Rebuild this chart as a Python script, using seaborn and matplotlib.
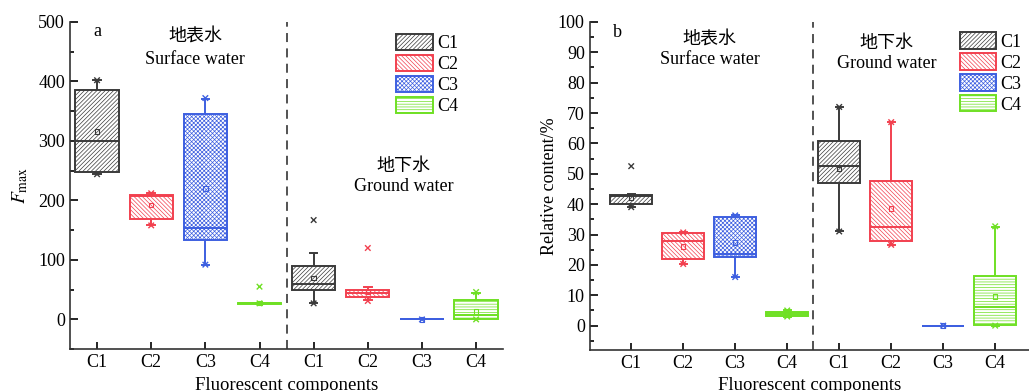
import numpy as np
import pandas as pd
import matplotlib
matplotlib.use("Agg")
import matplotlib.pyplot as plt
from matplotlib.patches import Patch
from matplotlib.ticker import MultipleLocator
import seaborn as sns

# components and sites
comps = ["C1", "C2", "C3", "C4"]
sites = ["Surface", "Ground"]
order = [f"{s}-{c}" for s in sites for c in comps]

# panel a: Fmax box stats (surface C1..C4, ground C1..C4)
fmax_min = [245, 158, 92, 26, 28, 32, 0, 0]
fmax_q1 = [248, 169, 133, 26.5, 50, 38, 0, 1]
fmax_med = [300, 207, 153, 27, 60, 44, 0, 8]
fmax_q3 = [385, 209, 345, 28, 90, 50, 0, 32]
fmax_max = [402, 212, 371, 28, 112, 55, 0, 45]
fmax_mean = [316, 192, 220, 28, 70, 46, 0, 13]
fmax_x = [[402, 244], [212, 158], [372, 92], [55, 27],
          [167, 27], [120, 31], [0], [46, 0]]

# panel b: relative content (%)
rel_min = [39, 20.3, 16, 3, 31, 26.6, 0, 0]
rel_q1 = [40, 22, 22.5, 3.2, 47, 27.8, 0, 0.2]
rel_med = [42.8, 27.8, 23.7, 3.9, 52.5, 32.5, 0, 6.3]
rel_q3 = [43, 30.5, 35.7, 4.6, 60.8, 47.7, 0, 16.4]
rel_max = [43.2, 30.7, 36.3, 5, 72, 67, 0, 32.5]
rel_mean = [42, 26, 27.3, 4, 51.5, 38.6, 0, 9.6]
rel_x = [[52.5, 39], [30.7, 20.3], [36.3, 16], [5, 3],
         [72, 31], [67, 26.6], [0], [32.7, 0]]

colors = {"C1": "#3a3a3a", "C2": "#f2404f", "C3": "#3d5fe0", "C4": "#6fe024"}
hatch_colors = {"C1": "#8a8a8a", "C2": "#f2404f", "C3": "#3d5fe0", "C4": "#6fe024"}
hatches = {"C1": "////////", "C2": "\\\\\\\\\\\\\\\\", "C3": "xxxxxxxx", "C4": "------"}

plt.rcParams["font.family"] = ["Liberation Serif", "Noto Sans CJK SC"]
plt.rcParams["mathtext.fontset"] = "stix"
plt.rcParams["hatch.linewidth"] = 0.5
cjk = ["Noto Sans CJK SC", "Liberation Serif"]
FS = 13


def long_tables(mins, q1s, meds, q3s, maxs, means, xs):
    rows, mrows, xrows = [], [], []
    for i, cat in enumerate(order):
        comp = cat.split("-")[1]
        for v in (mins[i], q1s[i], meds[i], q3s[i], maxs[i]):
            rows.append((cat, comp, v))
        mrows.append((cat, comp, means[i]))
        for v in xs[i]:
            xrows.append((cat, comp, v))
    cols = ["cat", "comp", "val"]
    return (pd.DataFrame(rows, columns=cols), pd.DataFrame(mrows, columns=cols),
            pd.DataFrame(xrows, columns=cols))


def comp_at(x):
    return order[int(round(x))].split("-")[1]


def style_patch(p, comp):
    p.set_facecolor("white")
    p.set_hatch(hatches[comp])
    p.set_edgecolor(colors[comp])
    if hasattr(p, "set_hatchcolor"):
        p.set_hatchcolor(hatch_colors[comp])


def hollow(ax, start, lw):
    for c in ax.collections[start:]:
        fc = c.get_facecolors()
        c.set_edgecolors(fc)
        c.set_facecolors("none")
        c.set_linewidth(lw)


def panel(ax, stats, ylim, major, minor):
    df, mdf, xdf = long_tables(*stats)
    sns.boxplot(data=df, x="cat", y="val", hue="comp", order=order, hue_order=comps,
                palette=colors, fill=True, dodge=False, whis=(0, 100), width=0.8,
                linewidth=1.4, legend=False, ax=ax)
    # recolour boxes with white face + coloured hatch
    for p in ax.patches:
        xs = p.get_path().vertices[:, 0]
        style_patch(p, comp_at(np.mean(xs)))
        p.set_linewidth(1.4)
    # whiskers, caps, medians in the box colour; shorten caps
    for ln in ax.lines:
        xd = np.asarray(ln.get_xdata(), dtype=float)
        if xd.size == 0:
            continue
        xc = np.mean(xd)
        comp = comp_at(xc)
        ln.set_color(colors[comp])
        ln.set_linewidth(1.4)
        span = xd.max() - xd.min()
        if 0 < span < 0.6:
            ln.set_xdata([round(xc) - 0.07, round(xc) + 0.07])
    n0 = len(ax.collections)
    sns.stripplot(data=mdf, x="cat", y="val", hue="comp", order=order, hue_order=comps,
                  palette=colors, jitter=False, marker="s", size=3.2, legend=False, ax=ax, zorder=5)
    hollow(ax, n0, 0.8)
    n1 = len(ax.collections)
    sns.stripplot(data=xdf, x="cat", y="val", hue="comp", order=order, hue_order=comps,
                  palette=colors, jitter=False, marker="x", size=4, legend=False, ax=ax, zorder=5)
    hollow(ax, n1, 1.0)
    ax.axvline(3.5, ls=(0, (5, 3.5)), color="#444444", lw=1.3)
    ax.set_ylim(*ylim)
    ax.yaxis.set_major_locator(MultipleLocator(major))
    ax.yaxis.set_minor_locator(MultipleLocator(minor))
    ax.set_xticks(range(8))
    ax.set_xticklabels(comps * 2)
    ax.tick_params(axis="both", which="both", direction="in", labelsize=FS, width=1.2)
    ax.tick_params(axis="y", which="major", length=6)
    ax.tick_params(axis="y", which="minor", length=3)
    ax.tick_params(axis="x", length=5)
    for s in ("top", "right"):
        ax.spines[s].set_visible(False)
    for s in ("left", "bottom"):
        ax.spines[s].set_linewidth(1.2)
        ax.spines[s].set_color("#333333")
    ax.set_xlabel("Fluorescent components", fontsize=FS + 0.5, labelpad=4)
    handles = []
    for c in comps:
        hp = Patch(lw=1.4, label=c)
        style_patch(hp, c)
        handles.append(hp)
    return handles


legend_kw = dict(loc="upper left", frameon=False, fontsize=FS, handlelength=2.0,
                 handleheight=1.0, labelspacing=0.15, handletextpad=0.25, borderaxespad=0)

fig = plt.figure(figsize=(10.29, 3.91), dpi=100)
ax1 = fig.add_axes([0.068, 0.107, 0.421, 0.837])
ax2 = fig.add_axes([0.573, 0.105, 0.427, 0.839])

h = panel(ax1, (fmax_min, fmax_q1, fmax_med, fmax_q3, fmax_max, fmax_mean, fmax_x),
          (-50, 500), 100, 50)
ax1.set_xlim(-0.5, 7.5)
ax1.set_ylabel(r"$\mathit{F}_{\mathrm{max}}$", fontsize=FS + 1, labelpad=6)
ax1.text(0, 484, "a", fontsize=FS, ha="center", va="center")
ax1.text(1.81, 476, "地表水", fontsize=FS, ha="center", va="center", family=cjk)
ax1.text(1.81, 436, "Surface water", fontsize=FS, ha="center", va="center")
ax1.text(5.66, 258, "地下水", fontsize=FS, ha="center", va="center", family=cjk)
ax1.text(5.66, 224, "Ground water", fontsize=FS, ha="center", va="center")
ax1.legend(handles=h, bbox_to_anchor=(0.737, 0.985), **legend_kw)

h = panel(ax2, (rel_min, rel_q1, rel_med, rel_q3, rel_max, rel_mean, rel_x),
          (-8, 100), 10, 5)
ax2.set_xlim(-0.8, 7.65)
ax2.set_ylabel("Relative content/%", fontsize=FS, labelpad=0)
ax2.text(-0.26, 96.5, "b", fontsize=FS, ha="center", va="center")
ax2.text(1.51, 94.3, "地表水", fontsize=FS, ha="center", va="center", family=cjk)
ax2.text(1.51, 87.5, "Surface water", fontsize=FS, ha="center", va="center")
ax2.text(4.91, 93, "地下水", fontsize=FS, ha="center", va="center", family=cjk)
ax2.text(4.91, 86.3, "Ground water", fontsize=FS, ha="center", va="center")
ax2.legend(handles=h, bbox_to_anchor=(0.826, 0.99), **legend_kw)

fig.savefig("out.png", dpi=100)
